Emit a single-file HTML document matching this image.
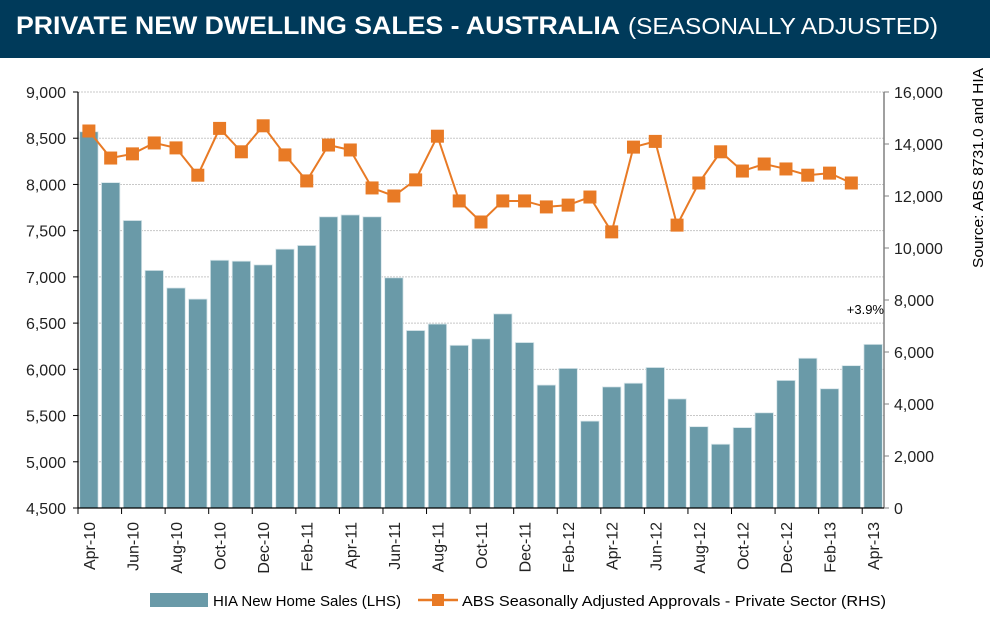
<!DOCTYPE html>
<html><head><meta charset="utf-8"><style>
html,body{margin:0;padding:0;background:#fff;}
svg{display:block;font-family:"Liberation Sans",Arial,sans-serif;}
</style></head><body>
<svg id="chart" width="992" height="619" viewBox="0 0 992 619">
<rect x="0" y="0" width="990" height="58" fill="#003a5a"/>
<text x="16" y="34" fill="#fff" font-size="25"><tspan font-weight="bold" textLength="604" lengthAdjust="spacingAndGlyphs">PRIVATE NEW DWELLING SALES -  AUSTRALIA</tspan><tspan dx="8" font-size="23" textLength="310" lengthAdjust="spacingAndGlyphs">(SEASONALLY ADJUSTED)</tspan></text>
<g id="grid"></g><g id="bars"></g><g id="line"></g><g id="axes"></g>
<text x="884" y="314" font-size="13" text-anchor="end" fill="#000">+3.9%</text>
<text transform="translate(983,168) rotate(-90)" font-size="15" text-anchor="middle" textLength="200" lengthAdjust="spacingAndGlyphs" fill="#000">Source: ABS 8731.0 and HIA</text>
<g>
<rect x="150" y="593" width="58" height="14" fill="#6a9aa8"/>
<text x="213" y="606" font-size="15" textLength="188" lengthAdjust="spacingAndGlyphs">HIA New Home Sales (LHS)</text>
<line x1="418" y1="600" x2="458" y2="600" stroke="#e87a25" stroke-width="2.5"/>
<rect x="432" y="594" width="12" height="12" fill="#e87a25"/>
<text x="462" y="606" font-size="15" textLength="424" lengthAdjust="spacingAndGlyphs">ABS Seasonally Adjusted Approvals - Private Sector (RHS)</text>
</g>
</svg>
<script>
const months = ["Apr-10","May-10","Jun-10","Jul-10","Aug-10","Sep-10","Oct-10","Nov-10","Dec-10","Jan-11","Feb-11","Mar-11","Apr-11","May-11","Jun-11","Jul-11","Aug-11","Sep-11","Oct-11","Nov-11","Dec-11","Jan-12","Feb-12","Mar-12","Apr-12","May-12","Jun-12","Jul-12","Aug-12","Sep-12","Oct-12","Nov-12","Dec-12","Jan-13","Feb-13","Mar-13","Apr-13"];
const salesValues = [8570,8020,7610,7070,6880,6760,7180,7170,7130,7300,7340,7650,7670,7650,6990,6420,6490,6260,6330,6600,6290,5830,6010,5440,5810,5850,6020,5680,5380,5190,5370,5530,5880,6120,5790,6040,6270];
const approvalValues = [14500,13460,13620,14040,13850,12800,14600,13700,14700,13580,12580,13960,13770,12310,12000,12620,14300,11810,11000,11810,11810,11580,11650,11960,10620,13880,14100,10880,12500,13700,12960,13230,13040,12800,12880,12500];
const leftTicks = [4500,5000,5500,6000,6500,7000,7500,8000,8500,9000];
const rightTicks = [0,2000,4000,6000,8000,10000,12000,14000,16000];

const NS="http://www.w3.org/2000/svg";
const X0=78,X1=884,Y0=508,Y1=92;
const slot=(X1-X0)/months.length;
const yL=v=>Y0-(v-4500)/(9000-4500)*(Y0-Y1);
const yR=v=>Y0-v/16000*(Y0-Y1);
const xC=i=>X0+slot*(i+0.5);
function mk(tag,attrs,parent){const e=document.createElementNS(NS,tag);for(const k in attrs)e.setAttribute(k,attrs[k]);document.getElementById(parent).appendChild(e);return e;}

leftTicks.forEach(v=>{
  if(v>4500){const g=mk('line',{x1:X0,x2:X1,y1:yL(v),y2:yL(v),stroke:'#c8c8c8','stroke-dasharray':'2,1'},'grid');
  
  }
  const t=mk('text',{x:X0-12,y:yL(v)+6,'font-size':16,'text-anchor':'end',fill:'#222'},'axes');t.textContent=v.toLocaleString('en-US');
  
  
  mk('line',{x1:X0-5,x2:X0,y1:yL(v),y2:yL(v),stroke:'#000'},'axes');
});
rightTicks.forEach(v=>{
  const t=mk('text',{x:X1+10,y:yR(v)+6,'font-size':16,fill:'#222'},'axes');t.textContent=v.toLocaleString('en-US');
  
  
  mk('line',{x1:X1,x2:X1+5,y1:yR(v),y2:yR(v),stroke:'#808080'},'axes');
});
salesValues.forEach((v,i)=>{
  const r=mk('rect',{x:xC(i)-9.2,y:yL(v),width:18.4,height:Y0-yL(v),fill:'#6a9aa8',stroke:'#d8e6ea','stroke-width':0.8},'bars');
  
  
});
const pts=approvalValues.map((v,i)=>xC(i)+','+yR(v)).join(' ');
const pl=mk('polyline',{points:pts,fill:'none',stroke:'#e87a25','stroke-width':2},'line');


approvalValues.forEach((v,i)=>{
  const m=mk('rect',{x:xC(i)-6.5,y:yR(v)-6.5,width:13,height:13,fill:'#e87a25'},'line');
  
  
});
mk('line',{x1:X0,x2:X0,y1:Y1,y2:Y0,stroke:'#000','stroke-width':1.2},'axes');
mk('line',{x1:X1,x2:X1,y1:Y1,y2:Y0,stroke:'#808080','stroke-width':1.5},'axes');
mk('line',{x1:X0,x2:X1,y1:Y0,y2:Y0,stroke:'#000','stroke-width':1.2},'axes');
for(let i=0;i<=months.length;i+=2){mk('line',{x1:X0+slot*i,x2:X0+slot*i,y1:Y0,y2:Y0+6,stroke:'#000'},'axes');}
months.forEach((m,i)=>{
  if(i%2)return;
  const t=mk('text',{transform:`translate(${xC(i)+6},522) rotate(-90)`,'font-size':16,'text-anchor':'end',fill:'#222'},'axes');
  t.textContent=m;
  
  
});
</script>
</body></html>
